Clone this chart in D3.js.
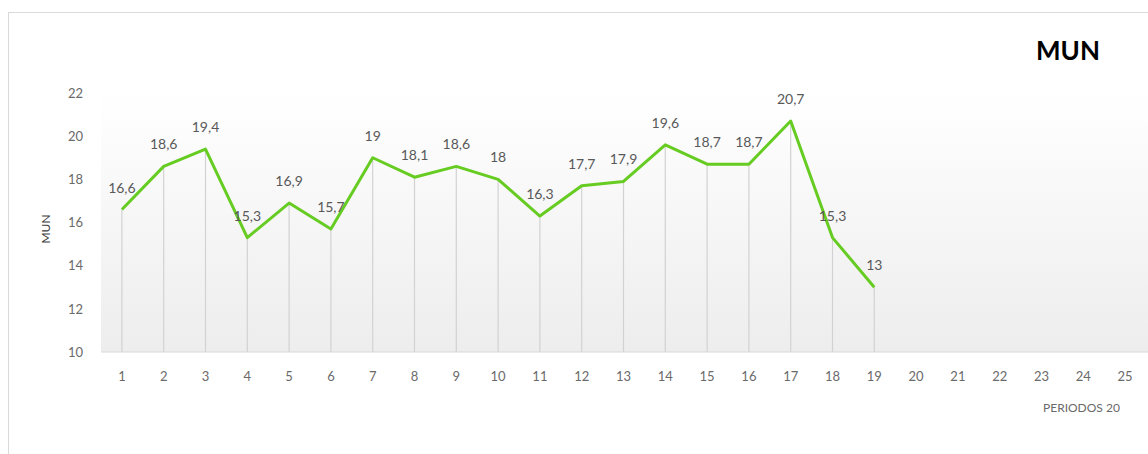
<!DOCTYPE html>
<html>
<head>
<meta charset="utf-8">
<script src="https://cdn.jsdelivr.net/npm/d3@7"></script>
<style>
  html, body { margin: 0; padding: 0; background: #fff; }
  #chart { width: 1148px; height: 454px; overflow: hidden; }
  text { font-family: Lato, "Noto Sans", sans-serif; }
</style>
</head>
<body>
<div id="chart"></div>
<script>
// periods shown on the axis, and measured MUN values (only first 19 have data)
const periods = d3.range(1, 26).map(String)
const munValues = [16.6, 18.6, 19.4, 15.3, 16.9, 15.7, 19, 18.1, 18.6, 18, 16.3, 17.7, 17.9, 19.6, 18.7, 18.7, 20.7, 15.3, 13]
const yTicks = [10, 12, 14, 16, 18, 20, 22]

const width = 1148
const height = 454
const plotLeft = 101
const plotTop = 93
const plotBottom = 352
const step = 41.8

const svg = d3.select("#chart").append("svg")
  .attr("width", width)
  .attr("height", height)

// gradient background of plot area
const defs = svg.append("defs")
const grad = defs.append("linearGradient").attr("id", "bg")
  .attr("x1", 0).attr("y1", 0).attr("x2", 0).attr("y2", 1)
grad.append("stop").attr("offset", "0%").attr("stop-color", "#ffffff")
grad.append("stop").attr("offset", "22%").attr("stop-color", "#fbfbfb")
grad.append("stop").attr("offset", "100%").attr("stop-color", "#ededed")

// outer chart border
svg.append("rect")
  .attr("x", 8.5).attr("y", 12.5)
  .attr("width", 1300).attr("height", 600)
  .attr("fill", "none").attr("stroke", "#d9d9d9")

const x = d3.scaleBand()
  .domain(periods)
  .range([plotLeft, plotLeft + step * periods.length])

const y = d3.scaleLinear()
  .domain([10, 22])
  .range([plotBottom, plotTop])

svg.append("rect")
  .attr("x", plotLeft).attr("y", plotTop)
  .attr("width", width - plotLeft).attr("height", plotBottom - plotTop)
  .attr("fill", "url(#bg)")

const data = munValues.map((v, i) => ({ p: periods[i], v }))
const cx = d => x(d.p) + x.bandwidth() / 2

// drop lines
svg.append("g").classed("drops", true)
  .selectAll("line")
  .data(data)
  .join("line")
  .attr("x1", cx).attr("x2", cx)
  .attr("y1", d => y(d.v)).attr("y2", plotBottom)
  .attr("stroke", "#d2d2d2")
  .attr("stroke-width", 1.2)

// y axis
const axisY = svg.append("g").classed("axis y", true)
  .attr("transform", `translate(${plotLeft - 18},0)`)
  .call(d3.axisLeft(y).tickValues(yTicks).tickSize(0).tickPadding(0))
axisY.select(".domain").remove()
axisY.selectAll("text")
  .attr("fill", "#6a6a6a")
  .style("font-size", "13px")

// x axis (line runs on to the right edge)
const axisX = svg.append("g").classed("axis x", true)
  .attr("transform", `translate(0,${plotBottom})`)
  .call(d3.axisBottom(x).tickSize(0).tickPadding(20))
axisX.select(".domain").remove()
axisX.append("line")
  .attr("x1", plotLeft).attr("x2", width)
  .attr("stroke", "#d9d9d9")
axisX.selectAll("text")
  .attr("fill", "#6a6a6a")
  .style("font-size", "13px")

// line
const line = d3.line().x(cx).y(d => y(d.v))
svg.append("path")
  .datum(data)
  .attr("d", line)
  .attr("fill", "none")
  .attr("stroke", "#66cc22")
  .attr("stroke-width", 3)
  .attr("stroke-linejoin", "round")

// data labels
svg.append("g").classed("labels", true)
  .selectAll("text")
  .data(data)
  .join("text")
  .attr("x", cx)
  .attr("y", d => y(d.v) - 17)
  .attr("text-anchor", "middle")
  .attr("fill", "#595959")
  .style("font-size", "14px")
  .text(d => String(d.v).replace(".", ","))

// titles
svg.append("text")
  .attr("x", 1036).attr("y", 60)
  .attr("fill", "#000")
  .style("font-size", "26px")
  .style("font-weight", "bold")
  .text("MUN")

svg.append("text")
  .attr("transform", `translate(50,229) rotate(-90)`)
  .attr("text-anchor", "middle")
  .attr("fill", "#404040")
  .style("font-size", "12px")
  .text("MUN")

svg.append("text")
  .attr("x", 1043).attr("y", 412)
  .attr("fill", "#6a6a6a")
  .style("font-size", "12px")
  .text("PERIODOS 20")
</script>
</body>
</html>
